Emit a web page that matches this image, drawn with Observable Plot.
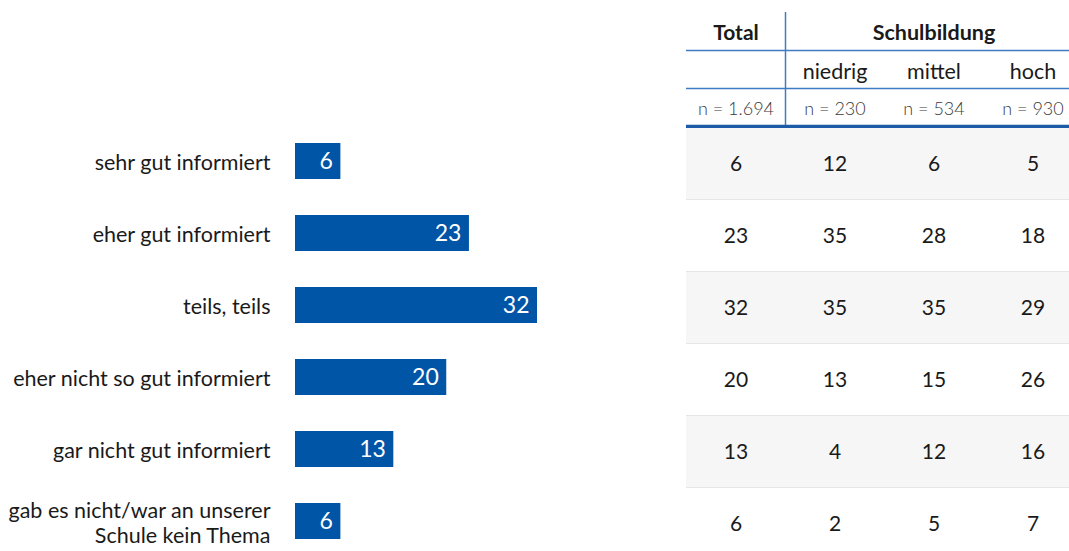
<!DOCTYPE html>
<html><head><meta charset="utf-8">
<script src="https://cdn.jsdelivr.net/npm/d3@7"></script>
<script src="https://cdn.jsdelivr.net/npm/@observablehq/plot@0.6"></script>
<style>
body{margin:0;background:#fff;font-family:Lato,sans-serif;overflow:hidden}
#wrap{display:flex;width:1069px;height:551px;overflow:hidden}
#left{width:686px;flex:none}
#right{display:flex;flex-direction:column;width:383px;flex:none;overflow:hidden}
svg{display:block}
</style></head><body><div id="wrap"><div id="left"></div><div id="right"></div></div>
<script>
const categories = ["sehr gut informiert", "eher gut informiert", "teils, teils", "eher nicht so gut informiert", "gar nicht gut informiert", "gab es nicht/war an unserer\nSchule kein Thema"];
const total = [6, 23, 32, 20, 13, 6];
const niedrig = [12, 35, 35, 13, 4, 2];
const mittel = [6, 28, 35, 15, 12, 5];
const hoch = [5, 18, 29, 26, 16, 7];
const columns = ["Total", "niedrig", "mittel", "hoch"];
const sampleSizes = ["n = 1.694", "n = 230", "n = 534", "n = 930"];
const groupTitle = "Schulbildung";
const headerRows = ["title", "sub", "n"];

const font = {fontFamily: "Lato", background: "white", overflow: "hidden"};
const barData = categories.map((c, i) => ({category: c, value: total[i]}));

const left = Plot.plot({
  width: 686, height: 551, marginLeft: 295, marginRight: 149, marginTop: 0, marginBottom: 0,
  style: font,
  x: {domain: [0, 32], axis: null},
  y: {type: "band", domain: categories, range: [125, 557], paddingInner: 0.5, paddingOuter: 0.25, axis: null},
  marks: [
    Plot.barX(barData, {x: "value", y: "category", fill: "#0055a7"}),
    Plot.text(barData, {x: "value", y: "category", text: d => String(d.value), textAnchor: "end", dx: -8, fill: "white", fontSize: 23}),
    Plot.text(barData, {x: 0, y: "category", text: "category", textAnchor: "end", dx: -25, dy: 1, fontSize: 21.5, fill: "#1a1a1a", lineHeight: 1.16})
  ]
});
document.getElementById("left").appendChild(left);

const header = Plot.plot({
  width: 383, height: 128, marginTop: 12, marginBottom: 2, marginLeft: 0, marginRight: 0,
  style: font,
  x: {type: "band", domain: columns, range: [0, 396], padding: 0, axis: null},
  y: {type: "band", domain: headerRows, range: [12, 126], padding: 0, axis: null},
  marks: [
    Plot.ruleY(["sub", "n"], {y: d => d, dy: -19, stroke: "#3d7cc2", strokeWidth: 1.5}),
    Plot.ruleX(["niedrig"], {x: d => d, dx: -49.5, stroke: "#3d7cc2", strokeWidth: 1.5}),
    Plot.frame({anchor: "bottom", stroke: "#1d5ba8", strokeWidth: 3.5}),
    Plot.text(["Total"], {x: d => d, y: () => "title", dy: 2, fontWeight: "bold", fontSize: 21, fill: "#1a1a1a"}),
    Plot.text([groupTitle], {x: () => "mittel", y: () => "title", dy: 2, fontWeight: "bold", fontSize: 21.5, fill: "#1a1a1a"}),
    Plot.text(columns.slice(1), {x: d => d, y: () => "sub", dy: 2.5, fontSize: 21.5, fill: "#1a1a1a"}),
    Plot.text(columns.map((c, i) => ({c, n: sampleSizes[i]})), {x: "c", y: () => "n", dy: 2, text: "n", fontWeight: 300, fontSize: 18, fill: "#3a3a3a"})
  ]
});
document.getElementById("right").appendChild(header);

const series = [total, niedrig, mittel, hoch];
const tableData = categories.flatMap((c, i) => columns.map((col, j) => ({category: c, column: col, value: series[j][i], row: i})));
const body = Plot.plot({
  width: 383, height: 423, margin: 0,
  style: font,
  x: {type: "band", domain: columns, range: [0, 396], padding: 0, axis: null},
  y: {type: "band", domain: categories, range: [-1, 431], padding: 0, axis: null},
  marks: [
    Plot.cell(tableData.filter(d => d.row % 2 === 0), {x: "column", y: "category", fill: "#f6f6f6"}),
    Plot.ruleY(categories.slice(1), {y: d => d, dy: -36, stroke: "#e6e6e6", strokeWidth: 1}),
    Plot.text(tableData, {x: "column", y: "category", text: "value", dy: 1, fontSize: 21, fill: "#1a1a1a"})
  ]
});
document.getElementById("right").appendChild(body);
</script></body></html>
